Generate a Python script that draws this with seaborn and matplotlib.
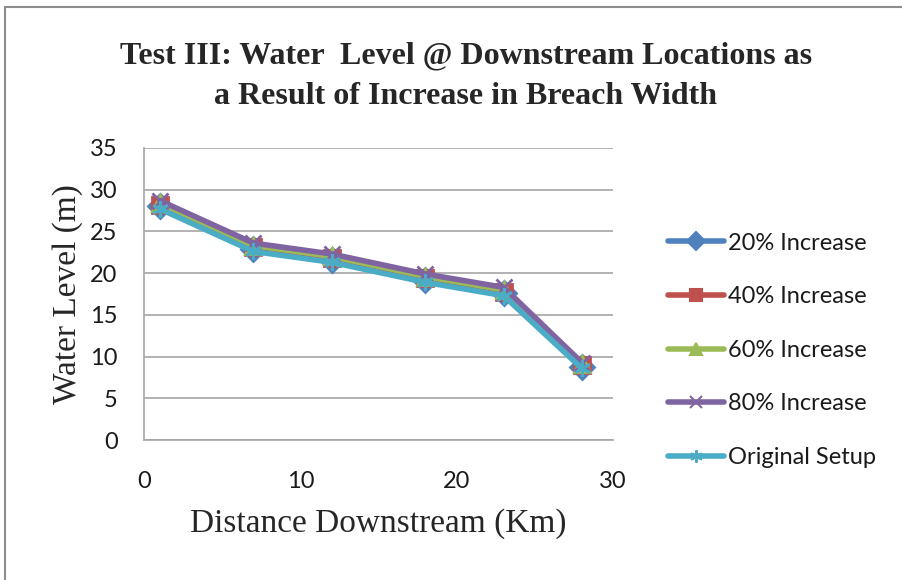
import pandas as pd
import numpy as np
import matplotlib
matplotlib.use("Agg")
import matplotlib.pyplot as plt
import matplotlib.patches as patches
from matplotlib.lines import Line2D
import seaborn as sns

# distance downstream (km) of the gauging points
distance = [1, 7, 12, 18, 23, 28]

# water level (m) for each breach-width case
inc_20 = [28.0, 22.9, 21.6, 19.2, 17.6, 8.8]
inc_40 = [28.2, 23.1, 21.8, 19.4, 17.8, 9.0]
inc_60 = [28.4, 23.3, 22.0, 19.6, 18.0, 9.1]
inc_80 = [28.7, 23.6, 22.3, 19.9, 18.3, 9.3]
original = [27.7, 22.6, 21.3, 18.9, 17.3, 8.6]

series_names = ["20% Increase", "40% Increase", "60% Increase", "80% Increase", "Original Setup"]
series_vals = [inc_20, inc_40, inc_60, inc_80, original]

colors = ["#4F81BD", "#C0504D", "#9BBB59", "#8064A2", "#4BACC6"]
markers = ["D", "s", "^", "x", (6, 2, 0)]

sns.set_style("white")
sans = ["Lato", "DejaVu Sans"]
serif = ["Liberation Serif", "DejaVu Serif"]
plt.rcParams["font.family"] = sans

fig = plt.figure(figsize=(9.03, 5.8), dpi=100)
ax = fig.add_axes([0.1595, 0.241, 0.5195, 0.504])

# one seaborn line per case (filled and line-art markers can't share one call)
for name, vals, c, m in zip(series_names, series_vals, colors, markers):
    sns.lineplot(x=distance, y=vals, color=c, marker=m, linewidth=4,
                 markersize=12, markeredgewidth=2, markeredgecolor=c, ax=ax)

ax.set_xlim(0, 30)
ax.set_ylim(0, 35)
ax.set_xticks([0, 10, 20, 30])
ax.set_yticks(range(0, 36, 5))
ax.yaxis.grid(True, color="#A6A6A6", linewidth=1.2)
ax.xaxis.grid(False)
for s in ["top", "right"]:
    ax.spines[s].set_visible(False)
for s in ["left", "bottom"]:
    ax.spines[s].set_color("#A6A6A6")
    ax.spines[s].set_linewidth(1.2)
ax.tick_params(axis="both", labelsize=17, length=0, labelcolor="#1a1a1a")
ax.tick_params(axis="x", pad=22)
ax.tick_params(axis="y", pad=19)

ax.set_xlabel("Distance Downstream (Km)", fontsize=24, family=serif, labelpad=12)
ax.set_ylabel("Water Level (m)", fontsize=24, family=serif, labelpad=5)

fig.text(0.516, 0.869, "Test III: Water  Level @ Downstream Locations as\na Result of Increase in Breach Width",
         ha="center", va="center", fontsize=23, fontweight="bold", family=serif, linespacing=1.53)

# legend
handles = [
    Line2D([], [], color=c, marker=m, linewidth=4, markersize=9, markeredgewidth=1.5)
    for c, m in zip(colors, markers)
]
fig.legend(handles, series_names, loc="upper left", bbox_to_anchor=(0.729, 0.615),
           frameon=False, fontsize=17, handlelength=2.4, labelspacing=1.38,
           handletextpad=0.15, borderaxespad=0, labelcolor="#1a1a1a")

# outer chart border
fig.patches.append(patches.Rectangle((0.006, -0.01), 1.0, 0.998, transform=fig.transFigure,
                                     fill=False, edgecolor="#8C8C8C", linewidth=1.5))

fig.savefig("out.png", dpi=100)
